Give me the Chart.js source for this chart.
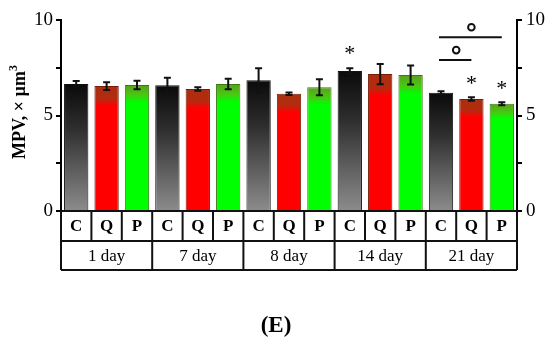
<!DOCTYPE html>
<html>
<head>
<meta charset="utf-8">
<script src="https://cdn.jsdelivr.net/npm/chart.js@4"></script>
<style>
  html, body { margin: 0; padding: 0; background: #fff; }
  #wrap { width: 550px; height: 355px; position: relative; }
</style>
</head>
<body>
<div id="wrap"><canvas id="mpvChart"></canvas></div>
<script>
// 데이터
const days = ['1 day', '7 day', '8 day', '14 day', '21 day'];
const groups = ['C', 'Q', 'P'];
const cMean = [6.65, 6.58, 6.84, 7.33, 6.19];
const cErr  = [0.15, 0.40, 0.63, 0.15, 0.08];
const qMean = [6.54, 6.39, 6.14, 7.17, 5.86];
const qErr  = [0.20, 0.09, 0.07, 0.53, 0.09];
const pMean = [6.60, 6.65, 6.48, 7.12, 5.62];
const pErr  = [0.22, 0.28, 0.42, 0.50, 0.08];
// 유의성 표시: 별표 (막대 인덱스, 값)
const stars = [[9, 8.4], [13, 6.85], [14, 6.6]];
// 비교선: [시작 막대, 끝 막대, 값]
const compLines = [[12, 14, 9.1], [12, 13, 7.9]];

const labels = [];
const values = [];
const errors = [];
days.forEach((d, i) => {
    labels.push(d + ' C', d + ' Q', d + ' P');
    values.push(cMean[i], qMean[i], pMean[i]);
    errors.push(cErr[i], qErr[i], pErr[i]);
});

const serif = '"Liberation Serif", "DejaVu Serif", serif';

function barFill(context) {
    const chart = context.chart;
    if (!chart.chartArea) return '#000';
    const y = chart.scales.y;
    const top = y.getPixelForValue(values[context.dataIndex]);
    const bottom = y.getPixelForValue(0);
    const g = chart.ctx.createLinearGradient(0, top, 0, bottom);
    const kind = context.dataIndex % 3;
    if (kind === 0) {
        g.addColorStop(0, '#0a0a0a');
        g.addColorStop(0.35, '#2e2e2e');
        g.addColorStop(1, '#8c8c8c');
    } else if (kind === 1) {
        g.addColorStop(0, '#a8300e');
        g.addColorStop(0.1, '#b52a10');
        g.addColorStop(0.16, '#ff0000');
        g.addColorStop(1, '#ff0000');
    } else {
        g.addColorStop(0, '#5aa01c');
        g.addColorStop(0.08, '#48c812');
        g.addColorStop(0.14, '#00ff00');
        g.addColorStop(1, '#00ff00');
    }
    return g;
}

const decorPlugin = {
    id: 'decor',
    afterDatasetsDraw(chart) {
        const ctx = chart.ctx;
        const x = chart.scales.x;
        const y = chart.scales.y;
        const area = chart.chartArea;
        ctx.save();

        // 오차 막대
        ctx.strokeStyle = '#111';
        ctx.lineWidth = 2;
        values.forEach((v, i) => {
            const cx = x.getPixelForValue(i);
            const t = y.getPixelForValue(v + errors[i]);
            const b = y.getPixelForValue(v - errors[i]);
            ctx.beginPath();
            ctx.moveTo(cx, t); ctx.lineTo(cx, b);
            ctx.moveTo(cx - 3.5, t); ctx.lineTo(cx + 3.5, t);
            ctx.moveTo(cx - 3.5, b); ctx.lineTo(cx + 3.5, b);
            ctx.stroke();
        });

        // 별표
        ctx.fillStyle = '#000';
        ctx.font = '22px ' + serif;
        ctx.textAlign = 'center';
        ctx.textBaseline = 'middle';
        stars.forEach(([i, v]) => {
            ctx.fillText('*', x.getPixelForValue(i), y.getPixelForValue(v) + 4);
        });

        // 비교선과 원
        compLines.forEach(([a, b, v]) => {
            const x1 = x.getPixelForValue(a);
            const x2 = x.getPixelForValue(b);
            const yy = y.getPixelForValue(v);
            ctx.beginPath();
            ctx.moveTo(x1 - 2, yy); ctx.lineTo(x2, yy);
            ctx.stroke();
            ctx.beginPath();
            ctx.arc((x1 + x2) / 2, yy - 10, 3.3, 0, Math.PI * 2);
            ctx.stroke();
        });

        // 아래 표
        const cw = (area.right - area.left) / labels.length;
        const r0 = area.bottom, r1 = r0 + 30, r2 = r1 + 29;
        ctx.lineWidth = 2;
        ctx.beginPath();
        ctx.moveTo(area.left, r0); ctx.lineTo(area.right, r0);
        ctx.moveTo(area.left, r1); ctx.lineTo(area.right, r1);
        ctx.moveTo(area.left, r2); ctx.lineTo(area.right, r2);
        for (let k = 0; k <= labels.length; k++) {
            const xx = x.getPixelForValue(k) - cw / 2;
            ctx.moveTo(xx, r0);
            ctx.lineTo(xx, k % 3 === 0 ? r2 : r1);
        }
        ctx.stroke();

        ctx.font = 'bold 17px ' + serif;
        labels.forEach((_, i) => {
            ctx.fillText(groups[i % 3], x.getPixelForValue(i), (r0 + r1) / 2 + 1);
        });
        ctx.font = '17px ' + serif;
        days.forEach((d, i) => {
            ctx.fillText(d, x.getPixelForValue(i * 3 + 1), (r1 + r2) / 2 + 1);
        });

        // 그림 라벨
        ctx.font = 'bold 23px ' + serif;
        ctx.fillText('(E)', 276, 326);

        // Y축 제목
        ctx.translate(20, 112);
        ctx.rotate(-Math.PI / 2);
        ctx.font = 'bold 18px ' + serif;
        const main = 'MPV, × µm';
        const w1 = ctx.measureText(main).width;
        ctx.font = '12px ' + serif;
        const w2 = ctx.measureText('3').width;
        ctx.textAlign = 'left';
        ctx.font = 'bold 18px ' + serif;
        ctx.fillText(main, -(w1 + w2) / 2, 0);
        ctx.font = 'bold 12px ' + serif;
        ctx.fillText('3', -(w1 + w2) / 2 + w1, -6);
        ctx.restore();
    }
};

const axisOpts = (pos, width, pad) => ({
    position: pos,
    min: 0,
    max: 10,
    ticks: {
        stepSize: 2.5,
        color: '#000',
        padding: pad,
        font: { family: serif, size: 19 },
        callback: v => (v % 5 === 0 ? v : '')
    },
    grid: { drawOnChartArea: false, drawTicks: true, tickLength: 5, color: '#000', lineWidth: 2 },
    border: { display: true, color: '#000', width: 2 },
    afterFit(scale) { scale.width = width; }
});

const ctx = document.getElementById('mpvChart').getContext('2d');
new Chart(ctx, {
    type: 'bar',
    data: {
        labels: labels,
        datasets: [{
            data: values,
            backgroundColor: barFill,
            borderColor: labels.map((_, i) => ['#111', '#7a1a08', '#3a7a10'][i % 3]),
            borderWidth: 1,
            barPercentage: 0.8,
            categoryPercentage: 1.0
        }]
    },
    options: {
        responsive: true,
        maintainAspectRatio: false,
        animation: false,
        layout: { padding: { left: 0, right: 0, top: 20, bottom: 0 } },
        plugins: {
            legend: { display: false },
            tooltip: { enabled: false }
        },
        scales: {
            x: { display: false, offset: true },
            y: axisOpts('left', 61, 3),
            y2: axisOpts('right', 33, 4)
        }
    },
    plugins: [decorPlugin, {
        id: 'bottomSpace',
        beforeLayout(chart) {
            chart.options.layout.padding.bottom = 144;
        }
    }]
});
</script>
</body>
</html>
